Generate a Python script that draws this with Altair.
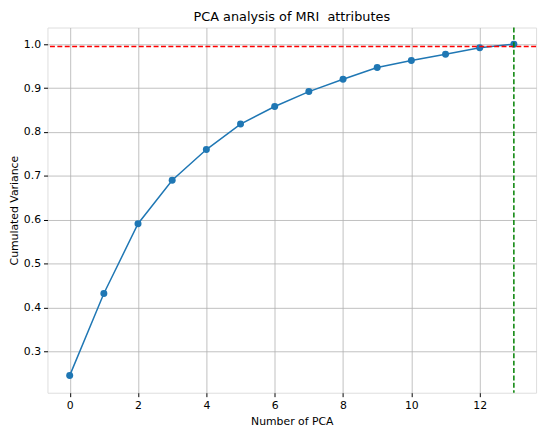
import altair as alt
import pandas as pd

n_pca = list(range(14))
cum_var = [0.245, 0.432, 0.591, 0.690, 0.760, 0.818, 0.858, 0.892, 0.920, 0.947, 0.963, 0.977, 0.992, 1.000]
threshold = [0.995]
n_components = [13]

df = pd.DataFrame({"n": n_pca, "v": cum_var})
thr = pd.DataFrame({"y": threshold})
ncomp = pd.DataFrame({"x": n_components})

FONT = "DejaVu Sans"
xscale = alt.Scale(domain=[-0.65, 13.65], nice=False, zero=False)
yscale = alt.Scale(domain=[0.206, 1.038], nice=False, zero=False)

xaxis = alt.Axis(values=[0, 2, 4, 6, 8, 10, 12], title="Number of PCA", grid=True,
                 gridColor="#b0b0b0", gridWidth=0.8, domain=False, tickColor="black",
                 tickSize=4, labelFontSize=11, titleFontSize=11, labelFont=FONT,
                 titleFont=FONT, titleFontWeight="normal", labelColor="black",
                 titleColor="black", titlePadding=5, labelPadding=3)
yaxis = alt.Axis(values=[0.3, 0.4, 0.5, 0.6, 0.7, 0.8, 0.9, 1.0], format=".1f",
                 title="Cumulated Variance", grid=True, gridColor="#b0b0b0", gridWidth=0.8,
                 domain=False, tickColor="black", tickSize=4, labelFontSize=11,
                 titleFontSize=11, labelFont=FONT, titleFont=FONT, titleFontWeight="normal",
                 labelColor="black", titleColor="black", titlePadding=4, labelPadding=3)

line = alt.Chart(df).mark_line(color="#1f77b4", strokeWidth=1.5).encode(
    x=alt.X("n:Q", scale=xscale, axis=xaxis),
    y=alt.Y("v:Q", scale=yscale, axis=yaxis),
)
pts = alt.Chart(df).mark_point(filled=True, color="#1f77b4", size=50, opacity=1).encode(
    x=alt.X("n:Q", scale=xscale),
    y=alt.Y("v:Q", scale=yscale),
)
hrule = alt.Chart(thr).mark_rule(color="#ff0000", strokeWidth=1.5, strokeDash=[5, 2.5]).encode(
    y=alt.Y("y:Q", scale=yscale)
)
vrule = alt.Chart(ncomp).mark_rule(color="#008000", strokeWidth=1.5, strokeDash=[5, 2.5]).encode(
    x=alt.X("x:Q", scale=xscale)
)

chart = alt.layer(line, pts, hrule, vrule).properties(
    width=495,
    height=370,
    title=alt.Title("PCA analysis of MRI\u00a0 attributes", font=FONT, fontSize=13,
                    fontWeight="normal", color="black", offset=3),
    autosize=alt.AutoSizeParams(type="none"),
    padding={"left": 40, "top": 17, "right": 6, "bottom": 36},
).configure_view(stroke="black", strokeWidth=1).configure(background="white")

chart.save("out.html", embed_options={"renderer": "svg", "actions": False})
